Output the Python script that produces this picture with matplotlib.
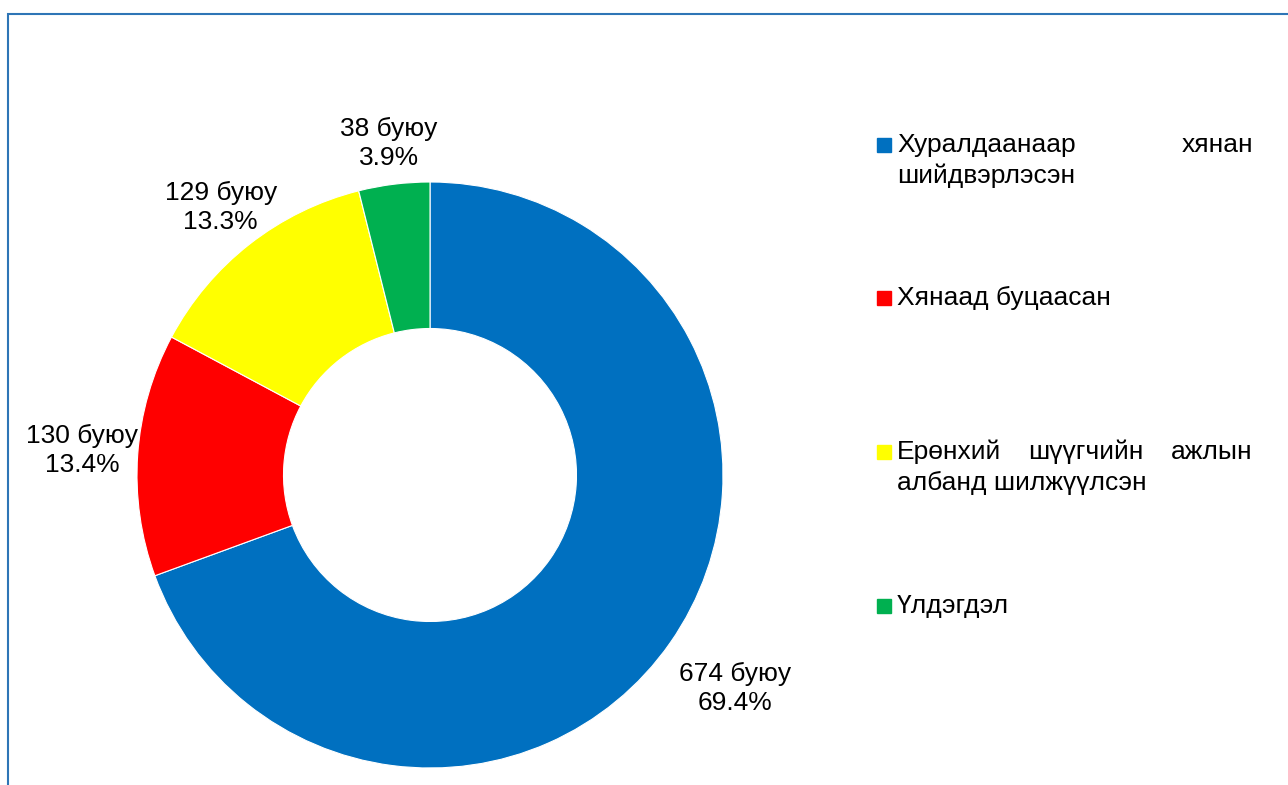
import matplotlib.pyplot as plt
from matplotlib.patches import Rectangle
import numpy as np

plt.rcParams['font.family'] = ['Liberation Sans', 'DejaVu Sans']

# data
categories = ['Хуралдаанаар хянан шийдвэрлэсэн', 'Хянаад буцаасан',
              'Ерөнхий шүүгчийн ажлын албанд шилжүүлсэн', 'Үлдэгдэл']
legend_lines = [['Хуралдаанаар хянан', 'шийдвэрлэсэн'],
                ['Хянаад буцаасан'],
                ['Ерөнхий шүүгчийн ажлын', 'албанд шилжүүлсэн'],
                ['Үлдэгдэл']]
counts = [674, 130, 129, 38]
colors = ['#0070C0', '#FF0000', '#FFFF00', '#00B050']

W, H = 1288, 785
fs = 19
fig = plt.figure(figsize=(W / 100, H / 100), dpi=100)
ax = fig.add_axes([0, 0, 1, 1])

# donut, pixel units (y up)
cx, cy, R = 430, H - 475, 293
wedges, _ = ax.pie(counts, colors=colors, startangle=90, counterclock=False,
                   radius=R, center=(cx, cy),
                   wedgeprops=dict(width=R * 0.5, edgecolor='white', linewidth=0.8))
ax.set_xlim(0, W)
ax.set_ylim(0, H)
ax.set_aspect('equal')
ax.axis('off')

# data labels
total = sum(counts)
label_dist = [1.27, 1.19, 1.16, 1.14]
for w, n, d in zip(wedges, counts, label_dist):
    ang = np.deg2rad((w.theta1 + w.theta2) / 2)
    x = cx + R * d * np.cos(ang)
    y = cy + R * d * np.sin(ang)
    ax.text(x, y, f'{n} буюу\n{n / total * 100:.1f}%', ha='center', va='center',
            fontsize=fs, linespacing=1.25)

# legend with justified text
renderer = fig.canvas.get_renderer()
x_box, x0, x1 = 877, 897, 1253
y_items = [145, 298, 452, 606]
line_gap = 31
for lines, c, yi in zip(legend_lines, colors, y_items):
    ax.add_patch(Rectangle((x_box, H - yi - 7), 14, 14, color=c))
    for k, line in enumerate(lines):
        y = H - (yi + k * line_gap)
        words = line.split()
        if k == len(lines) - 1 or len(words) == 1:
            ax.text(x0, y, line, ha='left', va='center', fontsize=fs)
            continue
        texts = [ax.text(0, y, wd, ha='left', va='center', fontsize=fs) for wd in words]
        widths = [t.get_window_extent(renderer).width for t in texts]
        gap = (x1 - x0 - sum(widths)) / (len(words) - 1)
        pos = x0
        for t, wdt in zip(texts, widths):
            t.set_x(pos)
            pos += wdt + gap

# chart frame
fig.patches.append(Rectangle((8 / W, 0 - 0.01), 1.1, (H - 14) / H + 0.01,
                             transform=fig.transFigure, fill=False,
                             edgecolor='#2E75B6', linewidth=1.5))

fig.savefig('out.png', dpi=100)
